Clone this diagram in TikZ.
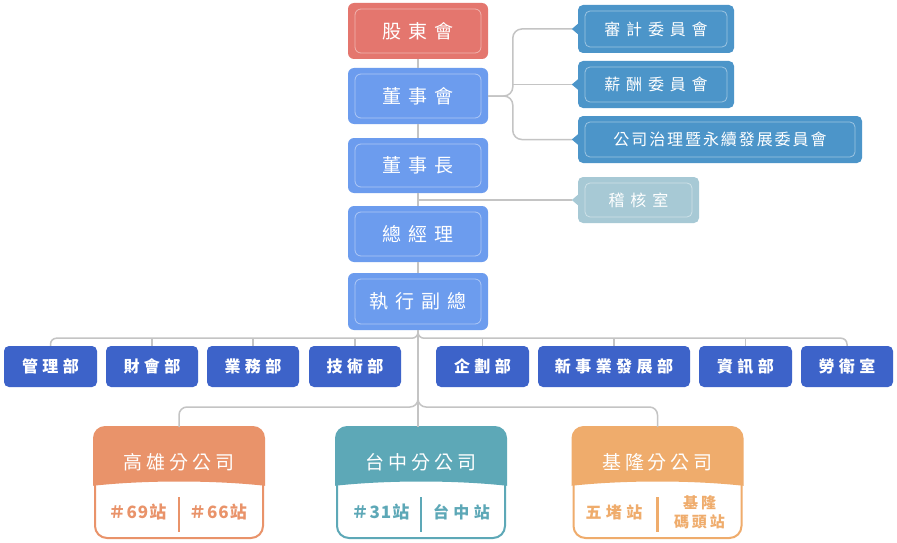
\documentclass[tikz,border=0pt]{standalone}
\usepackage{fontspec}
\setmainfont{Noto Sans CJK TC}
\newfontfamily\cjkC[LetterSpace=38]{Noto Sans CJK TC}
\newfontfamily\cjkK[LetterSpace=36]{Noto Sans CJK TC}
\newfontfamily\cjkL[LetterSpace=12]{Noto Sans CJK TC}
\newfontfamily\cjkD[LetterSpace=28]{Noto Sans CJK TC}
\newfontfamily\cjkB[LetterSpace=20]{Noto Sans CJK TC}
\newfontfamily\cjkN[LetterSpace=6]{Noto Sans CJK TC}
\usetikzlibrary{calc}
\definecolor{shc}{HTML}{E4766E}
\definecolor{bluec}{HTML}{6C9CEE}
\definecolor{commc}{HTML}{4C95C9}
\definecolor{audc}{HTML}{A7C9D5}
\definecolor{deptc}{HTML}{3D63C9}
\definecolor{kaoc}{HTML}{E9936A}
\definecolor{taic}{HTML}{5DA8B7}
\definecolor{keec}{HTML}{EFAC6C}
\definecolor{lineg}{HTML}{C4C4C4}
\tikzset{
  conn/.style={draw=lineg, line width=1.5pt},
  frame/.style={path picture={\draw[white,opacity=.45,line width=.8pt]
     ([shift={(7pt,6pt)}]path picture bounding box.south west) rectangle
     ([shift={(-7pt,-6pt)}]path picture bounding box.north east);}},
  centbox/.style={rectangle, rounded corners=6, fill=bluec, minimum width=140,
     minimum height=56, inner sep=0, text=white, frame,
     font=\fontsize{19}{22}\selectfont\cjkC},
  commbox/.style={rectangle, rounded corners=5, fill=commc, minimum height=47,
     inner sep=0, text=white, frame, font=\fontsize{16}{18}\selectfont\cjkK},
  dept/.style={rectangle, rounded corners=5, fill=deptc, minimum height=41,
     inner sep=0, text=white, font=\fontsize{16}{18}\selectfont\cjkD\bfseries},
  branch/.style={rectangle, rounded corners=12, draw=#1, line width=2pt, fill=white,
     minimum width=168, minimum height=110, inner sep=0},
  btitle/.style={text=white, inner sep=0, font=\fontsize{19}{22}\selectfont\cjkB},
  bsub/.style={text=#1, inner sep=0, align=center, font=\fontsize{16}{18}\selectfont\cjkD\bfseries},
  bsubn/.style={text=#1, inner sep=0, align=center, font=\fontsize{17}{19}\selectfont\cjkN\bfseries},
  bsubs/.style={text=#1, inner sep=0, align=center, font=\fontsize{15}{19}\selectfont\cjkB\bfseries},
}
\begin{document}
\begin{tikzpicture}[x=1pt,y=-1pt]
\fill[white] (0,0) rectangle (897,543);
\useasboundingbox (0,0) rectangle (897,543);

% central column
\node[centbox, fill=shc] (sh) at (418,31) {股東會};
\node[centbox] (bod) at (418,96) {董事會};
\node[centbox, minimum height=55] (chair) at (418,165.5) {董事長};
\node[centbox] (gm) at (418,234) {總經理};
\node[centbox, minimum height=57] (exec) at (418,301.5) {執行副總};

% committees
\node[commbox, minimum width=156, minimum height=48] (audit) at (656,29) {審計委員會};
\node[commbox, minimum width=156] (pay) at (656,84.5) {薪酬委員會};
\node[commbox, minimum width=284, font=\fontsize{16}{18}\selectfont\cjkL] (gov) at (720,139.5) {公司治理暨永續發展委員會};
\node[commbox, fill=audc, minimum width=121, minimum height=46] (aud) at (638.5,200) {稽核室};
\foreach \n/\c in {audit/commc, pay/commc, gov/commc, aud/audc}{
  \fill[\c] ($(\n.west)+(0.5,-5.5)$) -- ($(\n.west)+(-6,0)$) -- ($(\n.west)+(0.5,5.5)$) -- cycle;
}

% departments
\node[dept, minimum width=93] (d1) at (50.5,366.5) {管理部};
\node[dept, minimum width=92] (d2) at (152,366.5) {財會部};
\node[dept, minimum width=92] (d3) at (253,366.5) {業務部};
\node[dept, minimum width=92] (d4) at (355,366.5) {技術部};
\node[dept, minimum width=93] (d5) at (482.5,366.5) {企劃部};
\node[dept, minimum width=152] (d6) at (614,366.5) {新事業發展部};
\node[dept, minimum width=93] (d7) at (745.5,366.5) {資訊部};
\node[dept, minimum width=92] (d8) at (847,366.5) {勞衛室};

% branches
\node[branch=kaoc] (ks) at (179,483) {};
\node[branch=taic] (tc) at (421,483) {};
\node[branch=keec] (kl) at (657.5,483) {};
\foreach \n/\c in {ks/kaoc, tc/taic, kl/keec}{
  \begin{scope}
    \clip ($(\n.north west)+(-3,-3)$) -- ($(\n.north east)+(3,-3)$) -- ($(\n.north east)+(3,59)$)
      .. controls ($(\n.north east)+(-50,53)$) and ($(\n.north west)+(50,53)$) .. ($(\n.north west)+(-3,59)$) -- cycle;
    \fill[\c, rounded corners=12] ($(\n.north west)+(-1,-1)$) rectangle ($(\n.south east)+(1,1)$);
  \end{scope}
  \draw[\c, line width=2.5pt] ($(\n.center)+(0,14)$) -- ($(\n.center)+(0,49)$);
}
\node[btitle] (ks-t) at ($(ks.north)+(0,35)$) {高雄分公司};
\node[btitle] (tc-t) at ($(tc.north)+(0,35)$) {台中分公司};
\node[btitle] (kl-t) at ($(kl.north)+(0,35)$) {基隆分公司};
\node[bsubn=kaoc] (ks-a) at ($(ks.center)+(-41.5,29)$) {＃69站};
\node[bsubn=kaoc] (ks-b) at ($(ks.center)+(39,29)$) {＃66站};
\node[bsubn=taic] (tc-a) at ($(tc.center)+(-40.5,29)$) {＃31站};
\node[bsub=taic] (tc-b) at ($(tc.center)+(40.5,29)$) {台中站};
\node[bsub=keec] (kl-a) at ($(kl.center)+(-43.5,29)$) {五堵站};
\node[bsubs=keec] (kl-b) at ($(kl.center)+(42,29.5)$) {基隆\\碼頭站};

% connectors: trunk
\draw[conn] (sh.south) -- (bod.north);
\draw[conn] (bod.south) -- (chair.north);
\draw[conn] (chair.south) -- (gm.north);
\draw[conn] (gm.south) -- (exec.north);
% committees bracket
\draw[conn, rounded corners=9] (bod.east) -| ($(audit.west)+(-65,0)$) -- ($(audit.west)+(-6,0)$);
\draw[conn] ($(pay.west)+(-65,0)$) -- ($(pay.west)+(-6,0)$);
\draw[conn, rounded corners=9] (bod.east) -| ($(gov.west)+(-65,0)$) -- ($(gov.west)+(-6,0)$);
\draw[conn] (chair.south |- aud.west) -- ($(aud.west)+(-6,0)$);
% departments bus
\draw[conn, rounded corners=6] (exec.south) -- ++(0,8) -| (d1.north);
\draw[conn, rounded corners=6] (exec.south) -- ++(0,8) -| (d8.north);
\foreach \d in {d2,d3,d4,d5,d6,d7}{
  \draw[conn] (\d.north) -- ++(0,-8);
}
% branches bus
\draw[conn] (exec.south) -- (exec.south |- tc.north);
\draw[conn, rounded corners=8] (exec.south) -- (exec.south |- 0,407) -| (ks.north);
\draw[conn, rounded corners=8] (exec.south) -- (exec.south |- 0,407) -| (kl.north);
\end{tikzpicture}
\end{document}
